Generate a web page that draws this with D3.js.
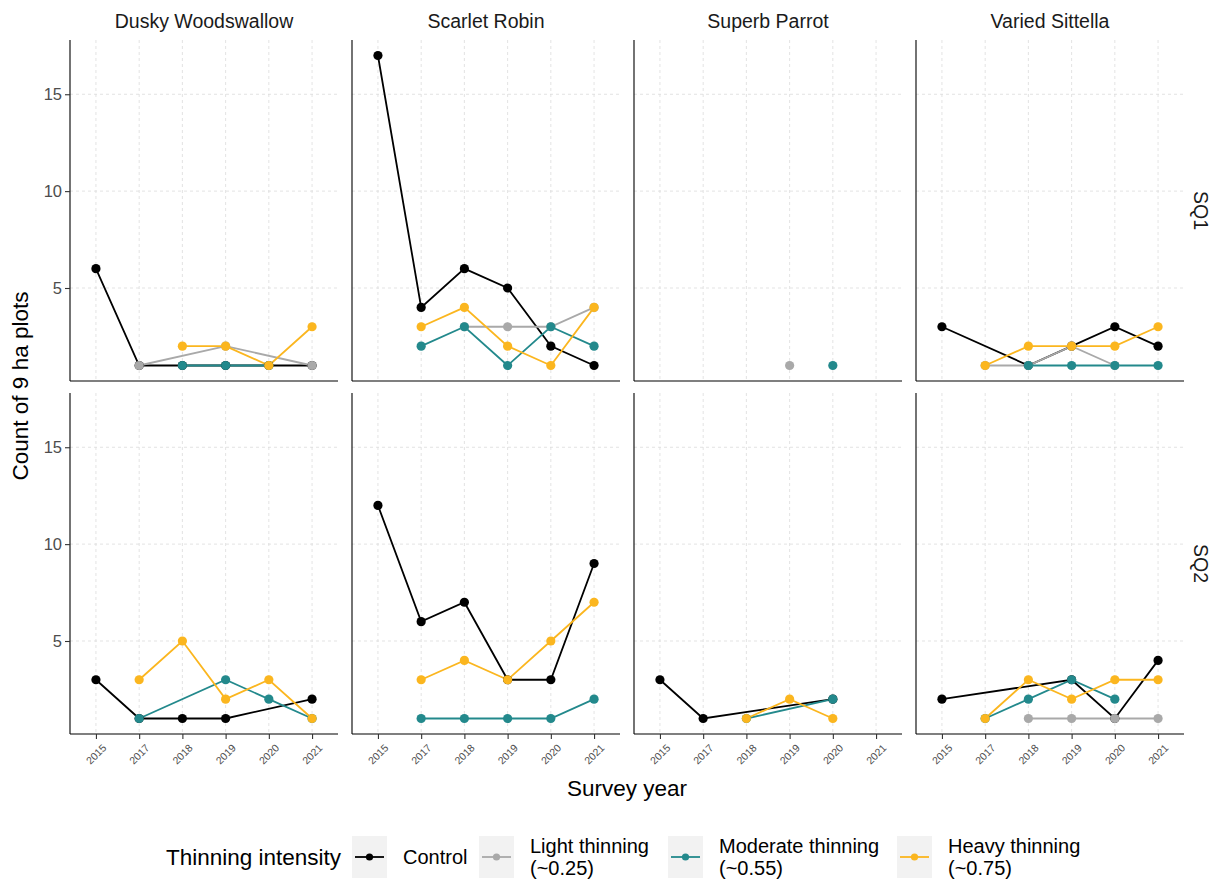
<!DOCTYPE html>
<html><head><meta charset="utf-8">
<script src="https://cdn.jsdelivr.net/npm/d3@7"></script>
<style>body{margin:0;background:#fff;} text{font-family:"Liberation Sans",Arial,sans-serif;}</style>
</head><body><svg id="c" width="1217" height="879"></svg>
<script>
const years = ["2015","2017","2018","2019","2020","2021"];
const species = ["Dusky Woodswallow","Scarlet Robin","Superb Parrot","Varied Sittella"];
const quadrants = ["SQ1","SQ2"];
const treatments = ["Control","Light thinning\n(~0.25)","Moderate thinning\n(~0.55)","Heavy thinning\n(~0.75)"];
const yTicks = [5,10,15];
// rows: Control, Light, Moderate, Heavy ; columns: years
const duskySQ1 = [[6,1,1,1,1,1],[null,1,null,2,null,1],[null,null,1,1,1,null],[null,null,2,2,1,3]];
const scarletSQ1 = [[17,4,6,5,2,1],[null,null,3,3,3,4],[null,2,3,1,3,2],[null,3,4,2,1,4]];
const parrotSQ1 = [[null,null,null,null,null,null],[null,null,null,1,null,null],[null,null,null,null,1,null],[null,null,null,null,null,null]];
const sittellaSQ1 = [[3,null,1,2,3,2],[null,1,1,2,1,null],[null,null,1,1,1,1],[null,1,2,2,2,3]];
const duskySQ2 = [[3,1,1,1,null,2],[null,null,null,null,null,null],[null,1,null,3,2,1],[null,3,5,2,3,1]];
const scarletSQ2 = [[12,6,7,3,3,9],[null,null,null,null,null,null],[null,1,1,1,1,2],[null,3,4,3,5,7]];
const parrotSQ2 = [[3,1,null,null,2,null],[null,null,null,null,null,null],[null,null,1,null,2,null],[null,null,1,2,1,null]];
const sittellaSQ2 = [[2,null,null,3,1,4],[null,null,1,1,1,1],[null,1,2,3,2,null],[null,1,3,2,3,3]];
const panelData = {
  "SQ1": [duskySQ1, scarletSQ1, parrotSQ1, sittellaSQ1],
  "SQ2": [duskySQ2, scarletSQ2, parrotSQ2, sittellaSQ2]
};
const colors = ["#000000","#a9a9a9","#23898c","#fbb61f"];

const svg = d3.select("#c");
const panelX = [70,352,634,916], panelW = 268;
const panelY = [40,393], panelH = 341;
const gridCol = "#dcdcdc", tickCol = "#4d4d4d";

quadrants.forEach((q, ri) => {
  species.forEach((sp, ci) => {
    const x0 = panelX[ci], y0 = panelY[ri];
    const x = d3.scalePoint().domain(years).range([x0, x0 + panelW]).padding(0.6);
    const y = d3.scaleLinear().domain([0.2, 17.8]).range([y0 + panelH, y0]);
    const g = svg.append("g");
    // grid
    years.forEach(yr => g.append("line").attr("x1", x(yr)).attr("x2", x(yr)).attr("y1", y0).attr("y2", y0 + panelH)
      .attr("stroke", gridCol).attr("stroke-width", 0.8).attr("stroke-dasharray", "3,3"));
    yTicks.forEach(t => g.append("line").attr("x1", x0).attr("x2", x0 + panelW).attr("y1", y(t)).attr("y2", y(t))
      .attr("stroke", gridCol).attr("stroke-width", 0.8).attr("stroke-dasharray", "3,3"));
    // axes lines
    g.append("line").attr("x1", x0).attr("x2", x0).attr("y1", y0).attr("y2", y0 + panelH).attr("stroke", "#000").attr("stroke-width", 1.1);
    g.append("line").attr("x1", x0).attr("x2", x0 + panelW).attr("y1", y0 + panelH).attr("y2", y0 + panelH).attr("stroke", "#000").attr("stroke-width", 1.1);
    if (ci === 0) {
      const ax = g.append("g").attr("transform", `translate(${x0},0)`).call(d3.axisLeft(y).tickValues(yTicks).tickSize(5).tickPadding(3));
      ax.select(".domain").remove();
      ax.selectAll("line").attr("stroke", "#333").attr("stroke-width", 1.1);
      ax.selectAll("text").attr("font-size", 16.5).attr("fill", tickCol).attr("font-family", "Liberation Sans, Arial, sans-serif");
    }
    if (ri === 1) {
      const ax = g.append("g").attr("transform", `translate(0,${y0 + panelH})`).call(d3.axisBottom(x).tickSize(5).tickFormat(""));
      ax.select(".domain").remove();
      ax.selectAll("line").attr("stroke", "#333").attr("stroke-width", 1.1);
      years.forEach(yr => g.append("text").attr("transform", `translate(${x(yr)},${y0 + panelH + 20}) rotate(-45)`)
        .attr("text-anchor", "middle").attr("dominant-baseline", "central").attr("font-size", 10.5).attr("fill", tickCol).text(yr));
    }
    // data
    const data = panelData[q][ci];
    const line = d3.line().x(d => x(d.year)).y(d => y(d.v));
    data.forEach((vals, ti) => {
      const pts = years.map((yr, i) => ({year: yr, v: vals[i]})).filter(d => d.v !== null);
      if (pts.length > 1) g.append("path").attr("d", line(pts)).attr("fill", "none").attr("stroke", colors[ti]).attr("stroke-width", 1.8);
    });
    data.forEach((vals, ti) => {
      const pts = years.map((yr, i) => ({year: yr, v: vals[i]})).filter(d => d.v !== null);
      g.selectAll(null).data(pts).enter().append("circle").attr("cx", d => x(d.year)).attr("cy", d => y(d.v)).attr("r", 4.6).attr("fill", colors[ti]);
    });
    if (ri === 0) {
      svg.append("text").attr("x", x0 + panelW / 2).attr("y", 28).attr("text-anchor", "middle").attr("font-size", 19.5).attr("fill", "#1a1a1a").text(sp);
    }
    if (ci === 3) {
      svg.append("text").attr("transform", `translate(${x0 + panelW + 10},${y0 + panelH / 2}) rotate(90)`).attr("text-anchor", "middle")
        .attr("font-size", 19.5).attr("fill", "#1a1a1a").text(q);
    }
  });
});

// axis titles
svg.append("text").attr("x", 627).attr("y", 796).attr("text-anchor", "middle").attr("font-size", 22.5).attr("fill", "#000").text("Survey year");
svg.append("text").attr("transform", "translate(28,386) rotate(-90)").attr("text-anchor", "middle").attr("font-size", 22.5).attr("fill", "#000").text("Count of 9 ha plots");

// legend
svg.append("text").attr("x", 166).attr("y", 865).attr("font-size", 22.5).attr("fill", "#000").text("Thinning intensity");
const keyX = [352, 479, 668, 897];
treatments.forEach((t, i) => {
  const kx = keyX[i];
  svg.append("rect").attr("x", kx).attr("y", 836).attr("width", 35).attr("height", 42).attr("fill", "#f2f2f2");
  svg.append("line").attr("x1", kx + 3).attr("x2", kx + 32).attr("y1", 857).attr("y2", 857).attr("stroke", colors[i]).attr("stroke-width", 1.8);
  svg.append("circle").attr("cx", kx + 17.5).attr("cy", 857).attr("r", 3.6).attr("fill", colors[i]);
  const lines = t.split("\n");
  const tx = svg.append("text").attr("x", kx + 51).attr("font-size", 20).attr("fill", "#000");
  if (lines.length === 1) {
    tx.attr("y", 864).text(lines[0]);
  } else {
    lines.forEach((l, j) => tx.append("tspan").attr("x", kx + 51).attr("y", 853 + j * 22).text(l));
  }
});
</script></body></html>
